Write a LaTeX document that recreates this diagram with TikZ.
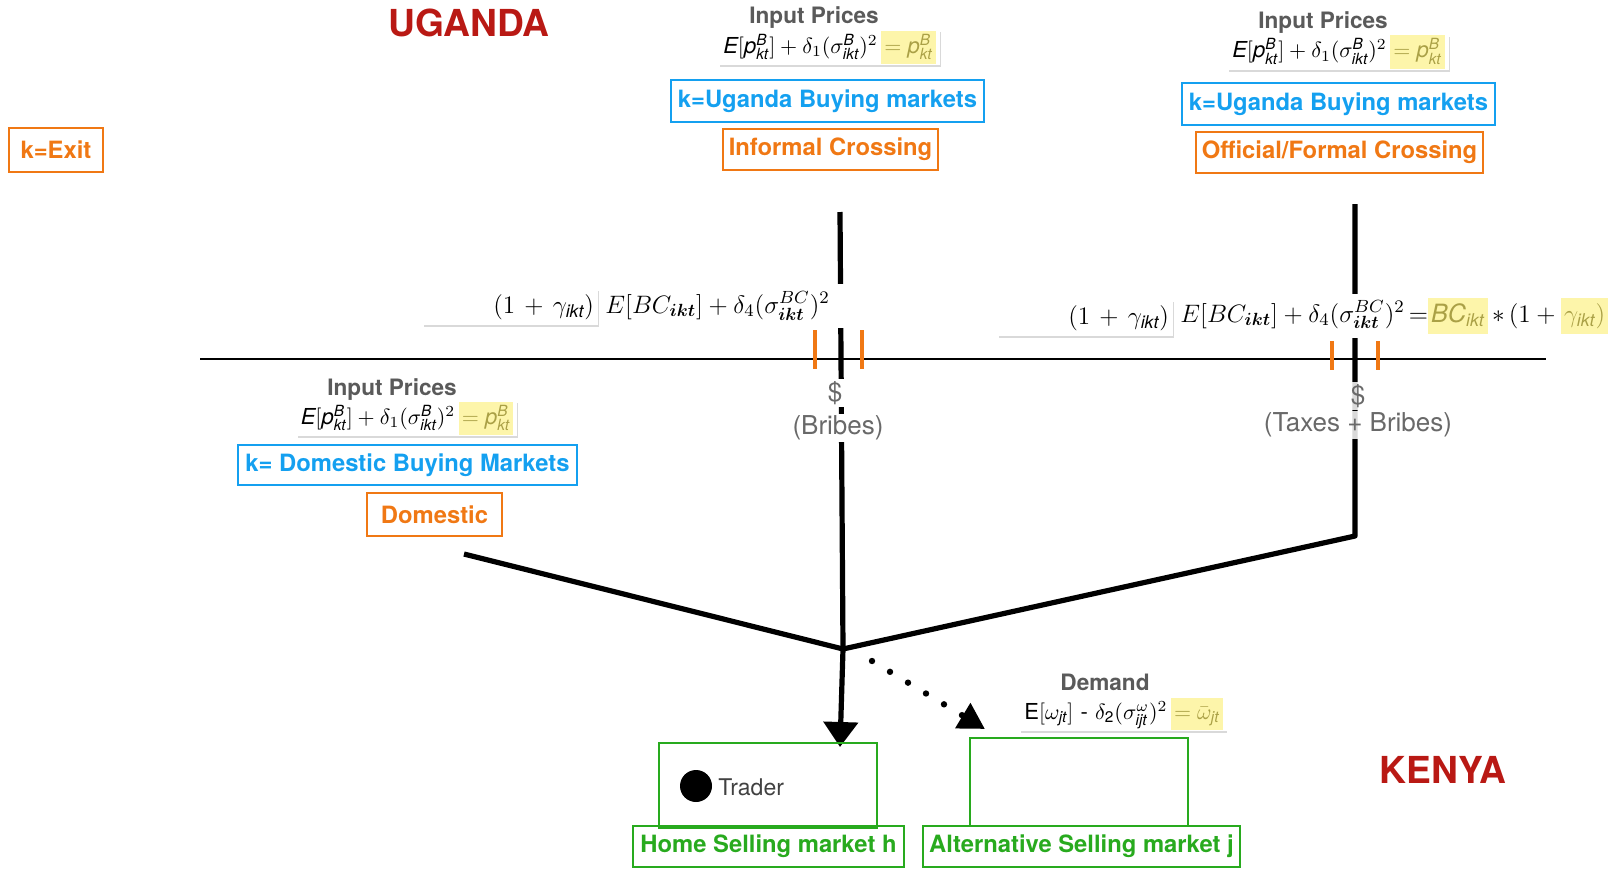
\RequirePackage{fix-cm}
\documentclass[tikz,border=0pt]{standalone}
\usepackage{amsmath}
\usepackage{fontspec}
\setsansfont{TeX Gyre Heros}
\usetikzlibrary{shadows,arrows.meta}
\definecolor{ublue}{RGB}{20,160,240}
\definecolor{uorange}{RGB}{240,120,20}
\definecolor{ugreen}{RGB}{40,170,30}
\definecolor{ured}{RGB}{185,25,20}
\definecolor{tgray}{RGB}{90,90,90}
\definecolor{dgray}{RGB}{65,65,65}
\definecolor{mgray}{RGB}{105,105,105}
\definecolor{hl}{RGB}{253,245,170}
\definecolor{olv}{RGB}{170,160,70}
\newcommand{\sfit}[1]{\text{\sffamily\itshape #1}}
\newcommand{\hlt}[1]{{\setlength{\fboxsep}{1.5pt}\colorbox{hl}{\color{olv}\strut#1}}}
\newcommand{\pform}{$\sfit{E}[\sfit{p}^{\sfit{B}}_{\sfit{kt}}]+\delta_1(\sigma^{\sfit{B}}_{\sfit{ikt}})^2$\,\hlt{$=\sfit{p}^{\sfit{B}}_{\sfit{kt}}$}}
\newcommand{\bcform}{$E[BC_{\boldsymbol{ikt}}]+\delta_4(\sigma^{BC}_{\boldsymbol{ikt}})^2$}
\begin{document}
\begin{tikzpicture}[x=0.5pt,y=-0.5pt,
  lbl/.style={draw, line width=1.3pt, inner sep=0pt, font=\sffamily\bfseries\fontsize{11.9}{14}\selectfont},
  obox/.style={lbl, draw=uorange, text=uorange},
  bbox/.style={lbl, draw=ublue, text=ublue},
  gbox/.style={lbl, draw=ugreen, text=ugreen},
  ttl/.style={font=\sffamily\bfseries\fontsize{18.6}{21}\selectfont, text=ured, inner sep=0pt},
  head/.style={font=\sffamily\bfseries\fontsize{11.3}{13}\selectfont, text=tgray, inner sep=0pt},
  frm/.style={fill=white, inner xsep=2pt, inner ysep=0.5pt, font=\fontsize{11}{13}\selectfont,
    drop shadow={shadow xshift=0.4pt, shadow yshift=-1.2pt, opacity=0.3}},
  big/.style={font=\fontsize{12.6}{15}\selectfont},
  stroke/.style={line width=2.6pt, line join=round},
  otick/.style={draw=uorange, line width=1.6pt},
  money/.style={font=\sffamily\fontsize{13}{15}\selectfont, text=mgray, fill=white, inner sep=1pt},
  mkt/.style={draw=ugreen, line width=0.8pt, inner sep=0pt, minimum width=109pt}
]
\useasboundingbox (0,0) rectangle (1616,873);
% lines
\draw[line width=0.7pt] (200,359) -- (1546,359);
\coordinate (mtop) at (840,212);
\coordinate (junc) at (843,649);
\coordinate (mtip) at (840,747);
\coordinate (rtop) at (1355,204);
\coordinate (rbend) at (1355,536);
\coordinate (ltop) at (464,554);
\coordinate (dstart) at (872,661);
\coordinate (dend) at (985,729);
\draw[stroke] (mtop) -- (junc);
\draw[stroke] (ltop) -- (junc) -- (rbend) -- (rtop);
\draw[stroke, -{Triangle[length=12.5pt, width=17pt]}] (junc) -- (mtip);
\draw[line width=3.2pt, line cap=round, dash pattern=on 0pt off 10.5pt, -{Triangle[length=13pt,width=14pt]}] (dstart) -- (dend);
\draw[otick] (815,330) -- (815,369);
\draw[otick] (862,330) -- (862,369);
\draw[otick] (1332,341) -- (1332,370);
\draw[otick] (1378,341) -- (1378,370);
% titles
\node[ttl] (ug) at (469,23) {UGANDA};
\node[ttl] (ke) at (1443,770) {KENYA};
\node[obox, minimum width=47pt, minimum height=22pt] (exit) at (56,150) {k=Exit};
% top middle
\node[head] (ip1) at (814,18) {Input Prices};
\node[frm] (f1) at (829.5,47.5) {\pform};
\node[bbox, minimum width=156.5pt, minimum height=21pt] (ub1) at (827.5,101) {k=Uganda Buying markets};
\node[obox, minimum width=107.5pt, minimum height=20.5pt] (inf) at (830.5,149.5) {Informal Crossing};
% top right
\node[head] (ip2) at (1323,23) {Input Prices};
\node[frm] (f2) at (1338.5,52) {\pform};
\node[bbox, minimum width=156.5pt, minimum height=21pt] (ub2) at (1338.5,104) {k=Uganda Buying markets};
\node[obox, minimum width=143.5pt, minimum height=20.5pt] (off) at (1339.5,152.5) {Official/Formal Crossing};
% cost formulas
\node[frm, big, text width=83.5pt, align=right, minimum height=18pt] (g1) at (510.5,307) {$(1+\gamma_{\sfit{ikt}})$};
\node[fill=white, big, anchor=west, text width=153pt, align=left, inner sep=2pt, minimum height=22pt] (bc1) at (601,306) {\bcform};
\node[frm, big, text width=83.5pt, align=right, minimum height=18pt] (g2) at (1085.5,318) {$(1+\gamma_{\sfit{ikt}})$};
\node[fill=white, big, anchor=west, inner sep=2pt, minimum height=20pt] (bc2) at (1176,316)
  {\bcform\,$=$\hlt{$\sfit{BC}_{\sfit{ikt}}$}$\,*\,(1+{}$\hlt{$\gamma_{\sfit{ikt}})$}};
% money
\node[money] (d1) at (835,393) {\$};
\node[money] (b1) at (838,428) {(Bribes)};
\node[money, fill opacity=0.85, text opacity=1] (d2) at (1358,396) {\$};
\node[money, fill opacity=0.85, text opacity=1] (b2) at (1358,425) {(Taxes + Bribes)};
% domestic
\node[head] (ip3) at (392,390) {Input Prices};
\node[frm] (f3) at (407,418.5) {\pform};
\node[bbox, minimum width=169.5pt, minimum height=20pt] (db) at (407.5,465) {k= Domestic Buying Markets};
\node[obox, minimum width=67.5pt, minimum height=21.5pt] (dom) at (434.5,514.5) {Domestic};
% Kenya markets
\node[head] (dm) at (1105,682) {Demand};
\node[frm] (f4) at (1123.5,714) {\textsf{E}[$\omega_{\sfit{jt}}$] \textsf{-} $\delta_{\textsf{2}}(\sigma^{\omega}_{\sfit{ijt}})^2$\,\hlt{$=\bar{\omega}_{\sfit{jt}}$}};
\node[mkt, minimum height=42.5pt] (hrect) at (768,785.5) {};
\node[mkt, minimum height=44pt] (arect) at (1079,782) {};
\node[circle, fill=black, minimum size=16pt, inner sep=0pt] (dot) at (696,786) {};
\node[anchor=west, font=\sffamily\fontsize{11.5}{13}\selectfont, text=dgray, inner sep=0pt] (tr) at (718,787) {Trader};
\node[gbox, minimum width=135.5pt, minimum height=20.5pt] (home) at (768.5,846.5) {Home Selling market h};
\node[gbox, minimum width=158.5pt, minimum height=20.5pt] (alt) at (1081.5,846.5) {Alternative Selling market j};
\end{tikzpicture}
\end{document}
